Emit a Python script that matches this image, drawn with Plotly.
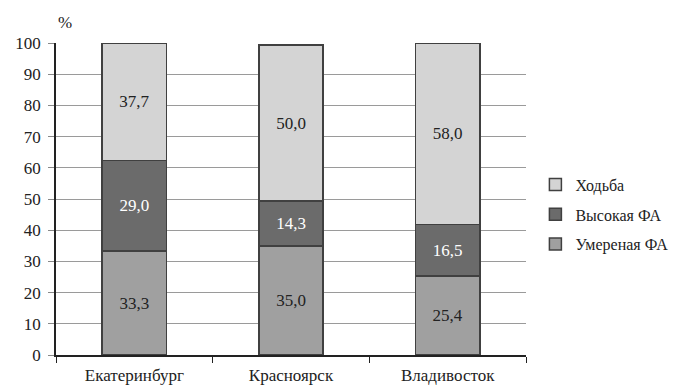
import plotly.graph_objects as go

cities = ["Екатеринбург", "Красноярск", "Владивосток"]
moderate = [33.3, 35.0, 25.4]
high = [29.0, 14.3, 16.5]
walking = [37.7, 50.0, 58.0]
y_ticks = [0, 10, 20, 30, 40, 50, 60, 70, 80, 90, 100]

font = "Liberation Serif, Times New Roman, serif"

def fmt(v):
    return f"{v:.1f}".replace(".", ",")

fig = go.Figure()
series = [
    ("Умереная ФА", moderate, "#a0a0a0", "#222222", 3),
    ("Высокая ФА", high, "#6b6b6b", "#ffffff", 2),
    ("Ходьба", walking, "#d4d4d4", "#222222", 1),
]
for name, vals, color, tcolor, rank in series:
    fig.add_trace(go.Bar(
        x=cities, y=vals, name=name, legendgroup=name, legendrank=rank,
        marker=dict(color=color, line=dict(color="#404040", width=1.5)),
        text=[fmt(v) for v in vals], textposition="inside",
        insidetextanchor="middle",
        textfont=dict(family=font, size=17, color=tcolor),
        width=0.41,
    ))

fig.update_layout(
    barmode="stack",
    width=685, height=387,
    margin=dict(l=56, r=149, t=43, b=32),
    paper_bgcolor="white", plot_bgcolor="white",
    font=dict(family=font, size=17, color="#222222"),
    showlegend=True,
    legend=dict(
        x=1.02, y=0.45, xanchor="left", yanchor="middle",
        traceorder="grouped",
        font=dict(family=font, size=16, color="#222222"),
        itemwidth=30, tracegroupgap=6,
    ),
    uniformtext=dict(mode="show", minsize=10),
)
fig.update_xaxes(
    type="category", tickson="boundaries", ticks="outside", ticklen=6,
    tickcolor="#222222", showline=True, linecolor="#222222", linewidth=1.5,
    showgrid=False, tickfont=dict(family=font, size=17), ticklabelstandoff=4,
    automargin=False,
)
fig.update_yaxes(
    range=[0, 100], tickvals=y_ticks, ticks="outside", ticklen=6,
    tickcolor="#888888", showline=True, linecolor="#222222", linewidth=1.5,
    showgrid=True, gridcolor="#9a9a9a", gridwidth=1,
    tickfont=dict(family=font, size=17), zeroline=False, ticklabelstandoff=4,
    automargin=False,
)
fig.add_annotation(
    text="%", xref="paper", yref="paper", x=0.0, y=1.03,
    xanchor="left", yanchor="bottom", showarrow=False,
    font=dict(family=font, size=17, color="#222222"),
)
fig.write_html("out.html")
